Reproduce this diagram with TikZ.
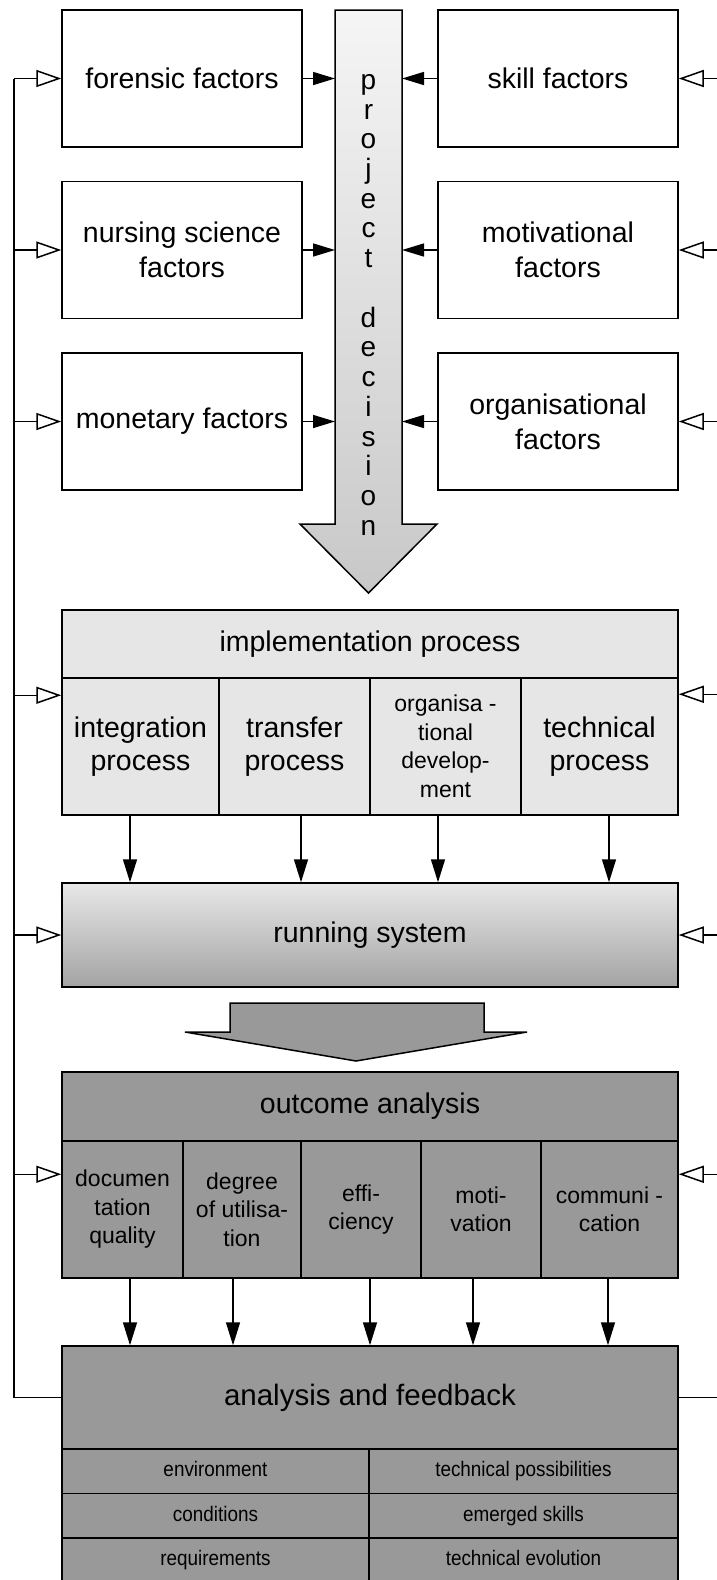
\documentclass[tikz,border=0pt]{standalone}
\usepackage{fontspec}
\setmainfont{Liberation Sans}
\newfontfamily\condfont[FakeStretch=0.9]{Liberation Sans}
\usetikzlibrary{arrows.meta}
\definecolor{implgray}{HTML}{E6E6E6}
\definecolor{darkbox}{HTML}{999999}
\definecolor{shaftTop}{HTML}{F5F5F5}
\definecolor{shaftBot}{HTML}{C8C8C8}
\definecolor{runTop}{HTML}{E8E8E8}
\definecolor{runBot}{HTML}{A3A3A3}
\tikzset{
  lw/.style={line width=1.5pt},
  box/.style={draw, lw, inner sep=0pt, align=center, text=black, font=\fontsize{28.5}{33}\selectfont},
  fbox/.style={box, fill=white, minimum width=240pt, minimum height=137pt, font=\fontsize{28.5}{35}\selectfont},
  smallbox/.style={box, font=\fontsize{23}{28.5}\selectfont},
  tabbox/.style={box, fill=darkbox, minimum height=44.5pt, text height=15pt, text depth=4.5pt, font=\fontsize{21}{25}\condfont},
  blk/.style={lw, -{Triangle[length=23pt,width=14pt]}},
  blks/.style={lw, -{Triangle[length=22pt,width=13pt]}},
  opn/.style={lw, -{Triangle[open,length=25pt,width=17pt,fill=white]}},
  letter/.style={font=\fontsize{28}{30}\selectfont, anchor=base, inner sep=0pt},
}
\begin{document}
\begin{tikzpicture}[x=1pt,y=-1pt]
\clip (0,0) rectangle (717,1580);
\fill[white] (0,0) rectangle (717,1580);

% factor boxes
\node[fbox] (forensic) at (182,78.5) {forensic factors};
\node[fbox] (nursing) at (182,250) {nursing science\\factors};
\node[fbox] (monetary) at (182,421.5) {monetary factors};
\node[fbox] (skill) at (558,78.5) {skill factors};
\node[fbox] (motiv) at (558,250) {motivational\\factors};
\node[fbox] (organ) at (558,421.5) {organisational\\factors};

% project decision arrow
\path[lw, draw=black, top color=shaftTop, bottom color=shaftBot]
  (335,10) -- (402,10) -- (402,524) -- (437,524) -- (368.5,593) -- (300,524) -- (335,524) -- cycle;
\coordinate (shaftL) at (335,0);
\coordinate (shaftR) at (402,0);
\foreach \l [count=\i from 0] in {p,r,o,j,e,c,t}
  \node[letter] (pl\i) at (368.5, 89.3+29.73*\i) {\l};
\foreach \l [count=\i from 8] in {d,e,c,i,s,i,o,n}
  \node[letter] (dl\i) at (368.5, 89.3+29.73*\i) {\l};

\foreach \n in {forensic,nursing,monetary}
  \draw[blks] (\n.east) -- (\n.east -| shaftL);
\foreach \n in {skill,motiv,organ}
  \draw[blks] (\n.west) -- (\n.west -| shaftR);

% implementation process
\node[box, fill=implgray, minimum width=616pt, minimum height=68pt] (imph) at (370,644) {implementation process};
\node[box, fill=implgray, minimum width=157pt, minimum height=137pt] (ic1) at (140.5,746.5) {integration\\process};
\node[box, fill=implgray, minimum width=151pt, minimum height=137pt] (ic2) at (294.5,746.5) {transfer\\process};
\node[smallbox, fill=implgray, minimum width=151pt, minimum height=137pt] (ic3) at (445.5,746.5) {organisa -\\tional\\develop-\\ment};
\node[box, fill=implgray, minimum width=157pt, minimum height=137pt] (ic4) at (599.5,746.5) {technical\\process};

% running system
\node[box, top color=runTop, bottom color=runBot, minimum width=616pt, minimum height=104pt] (run) at (370,935) {running system};

\draw[blk] ([xshift=-10.5pt]ic1.south) -- ([xshift=-10.5pt]ic1.south |- run.north);
\draw[blk] ([xshift=6.5pt]ic2.south) -- ([xshift=6.5pt]ic2.south |- run.north);
\draw[blk] ([xshift=-7.5pt]ic3.south) -- ([xshift=-7.5pt]ic3.south |- run.north);
\draw[blk] ([xshift=9.5pt]ic4.south) -- ([xshift=9.5pt]ic4.south |- run.north);

% block arrow
\filldraw[fill=darkbox, lw] (230,1003) -- (484,1003) -- (484,1032) -- (527,1032) -- (356,1061) -- (185,1032) -- (230,1032) -- cycle;

% outcome analysis
\node[box, fill=darkbox, minimum width=616pt, minimum height=69pt] (outh) at (370,1106.5) {outcome analysis};
\node[smallbox, fill=darkbox, minimum width=121pt, minimum height=137pt] (oc1) at (122.5,1209.5) {documen\\tation\\quality};
\node[smallbox, fill=darkbox, minimum width=118pt, minimum height=137pt] (oc2) at (242,1209.5) {degree\\of utilisa-\\tion};
\node[smallbox, fill=darkbox, minimum width=120pt, minimum height=137pt] (oc3) at (361,1209.5) {effi-\\ciency};
\node[smallbox, fill=darkbox, minimum width=120pt, minimum height=137pt] (oc4) at (481,1209.5) {moti-\\vation};
\node[smallbox, fill=darkbox, minimum width=137pt, minimum height=137pt] (oc5) at (609.5,1209.5) {communi -\\cation};

% analysis and feedback
\node[box, fill=darkbox, minimum width=616pt, minimum height=103pt, font=\fontsize{29.5}{33}\selectfont] (ana) at (370,1397.5) {analysis and feedback};
\node[tabbox, minimum width=307pt] (t11) at (215.5,1471.25) {environment};
\node[tabbox, minimum width=309pt] (t12) at (523.5,1471.25) {technical possibilities};
\node[tabbox, minimum width=307pt] (t21) at (215.5,1515.75) {conditions};
\node[tabbox, minimum width=309pt] (t22) at (523.5,1515.75) {emerged skills};
\node[tabbox, minimum width=307pt] (t31) at (215.5,1560.25) {requirements};
\node[tabbox, minimum width=309pt] (t32) at (523.5,1560.25) {technical evolution};

\draw[blk] ([xshift=7.5pt]oc1.south) -- ([xshift=7.5pt]oc1.south |- ana.north);
\draw[blk] ([xshift=-9pt]oc2.south) -- ([xshift=-9pt]oc2.south |- ana.north);
\draw[blk] ([xshift=9pt]oc3.south) -- ([xshift=9pt]oc3.south |- ana.north);
\draw[blk] ([xshift=-8pt]oc4.south) -- ([xshift=-8pt]oc4.south |- ana.north);
\draw[blk] ([xshift=-1.5pt]oc5.south) -- ([xshift=-1.5pt]oc5.south |- ana.north);

% feedback loops
\coordinate (L) at (14,0);
\coordinate (R) at (722,0);
\coordinate (implL) at ([yshift=-18pt]ic1.north west);
\coordinate (implR) at ([yshift=-17pt]ic4.north east);
\coordinate (outL) at ([yshift=-34pt]oc1.north west);
\coordinate (outR) at ([yshift=-34pt]oc5.north east);

\draw[lw] (ana.west) -- (ana.west -| L) -- (L |- forensic.west);
\draw[lw] (ana.east) -- (ana.east -| R) -- (R |- skill.east);

\foreach \n in {forensic.west,nursing.west,monetary.west,implL,run.west,outL}
  \draw[opn] (L |- \n) -- (\n);
\foreach \n in {skill.east,motiv.east,organ.east,implR,run.east,outR}
  \draw[opn] (R |- \n) -- (\n);
\end{tikzpicture}
\end{document}
